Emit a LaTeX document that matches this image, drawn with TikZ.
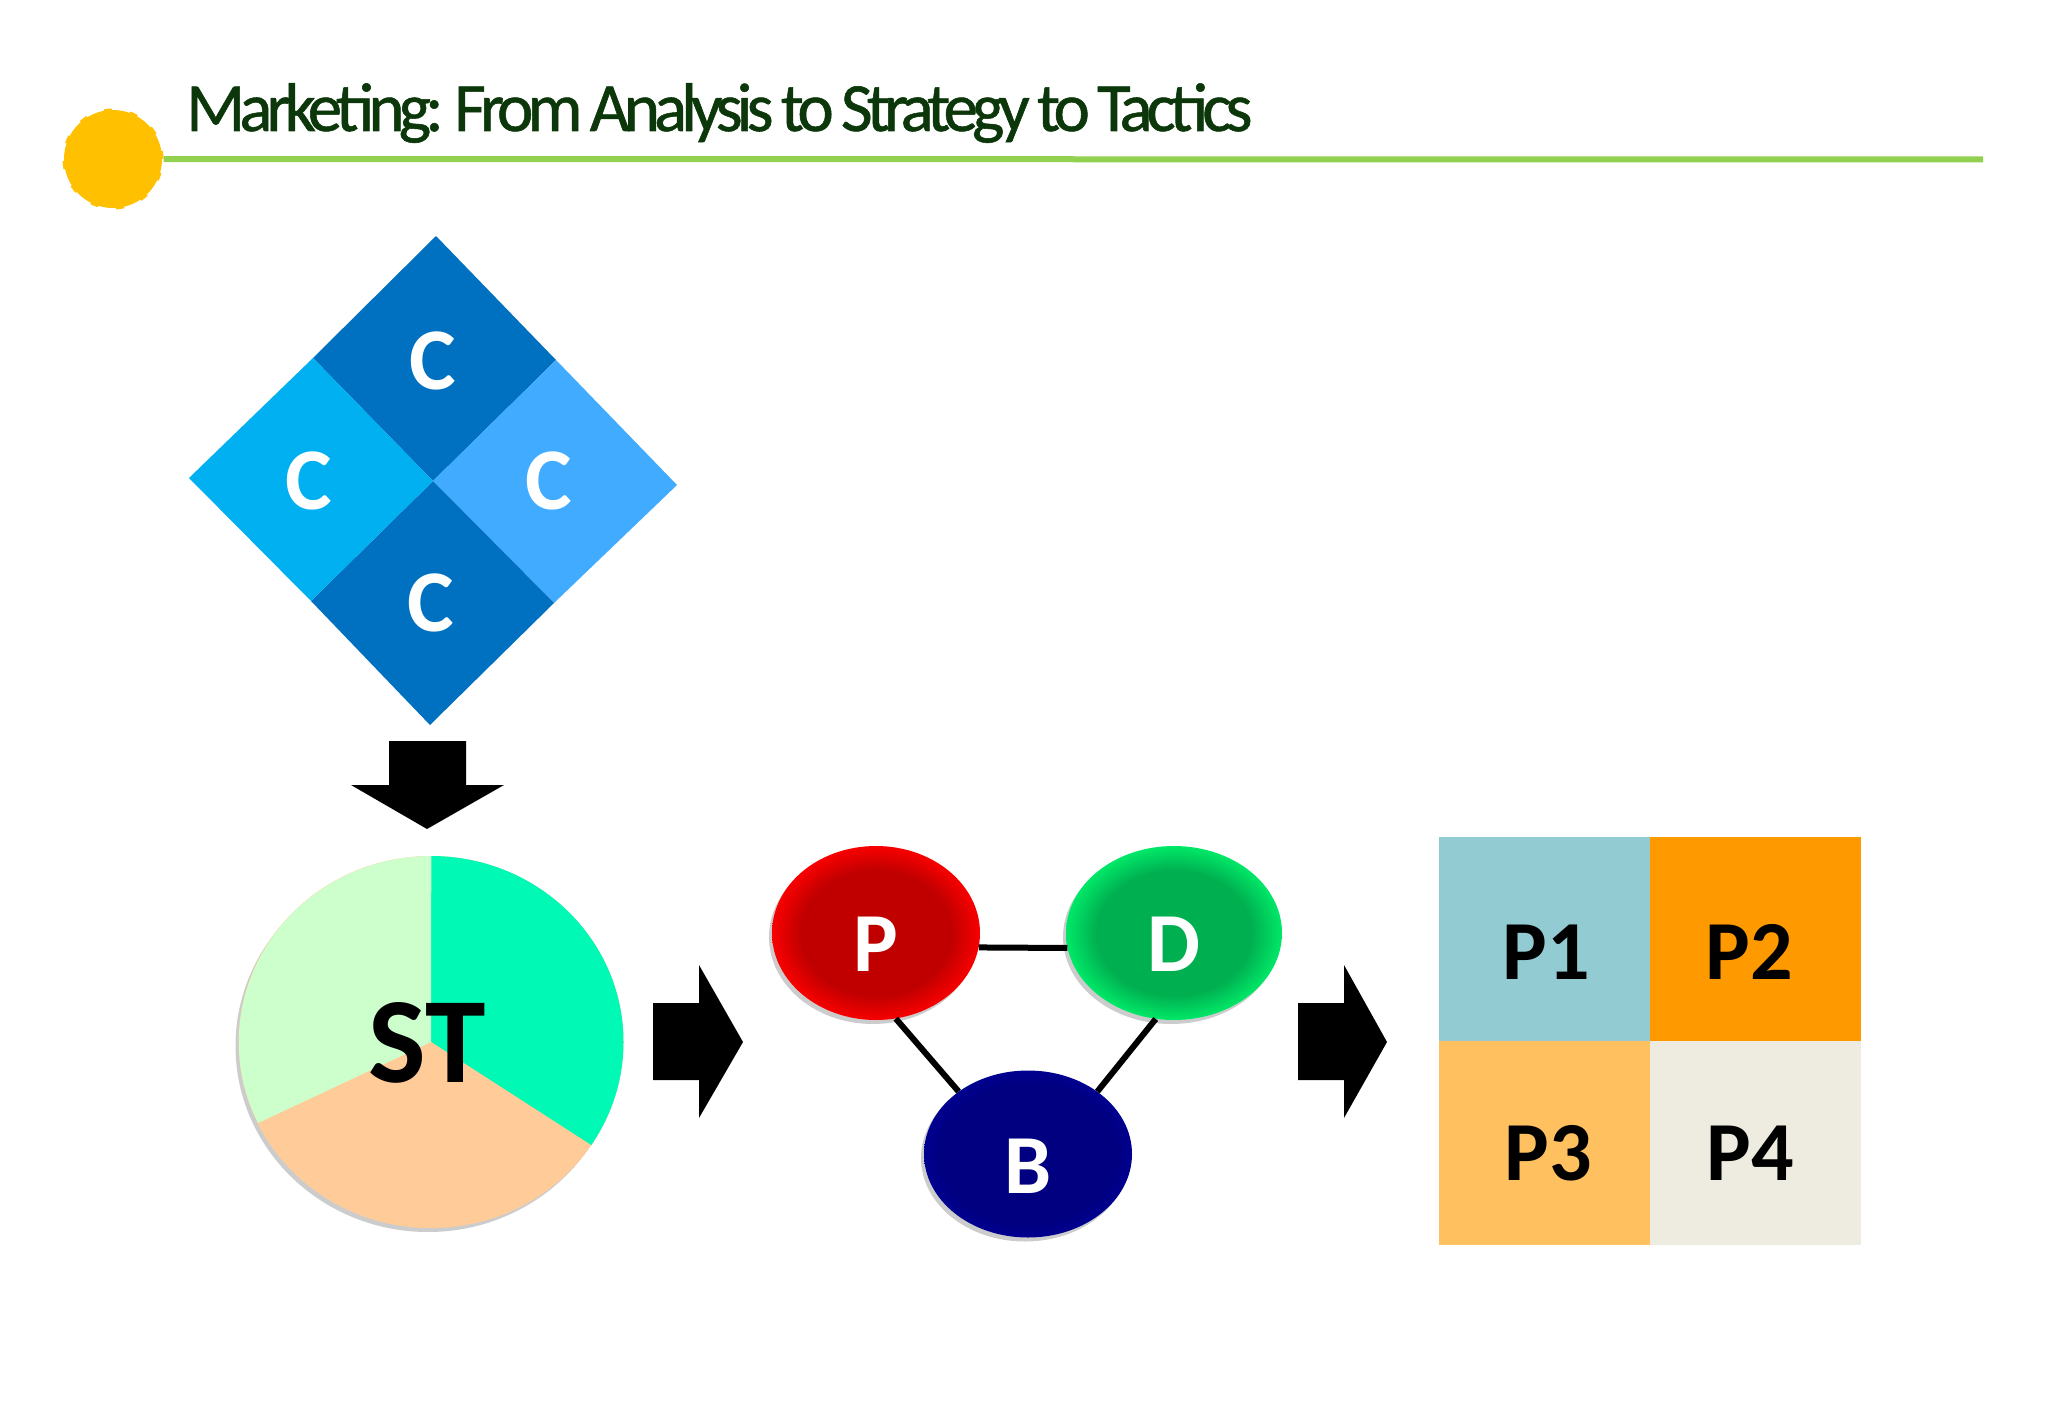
\documentclass[tikz,border=0pt]{standalone}
\usepackage{fontspec}
\setmainfont{Carlito}
\newfontfamily\titlefont[LetterSpace=-8.6,WordSpace=0.75,FakeBold=0.8]{Carlito}
\usetikzlibrary{shapes.geometric,shadows}
\definecolor{titlegreen}{HTML}{0C370A}
\definecolor{rulegreen}{HTML}{92D050}
\definecolor{sunyellow}{HTML}{FFC000}
\definecolor{cdark}{HTML}{0070C0}
\definecolor{ccyan}{HTML}{00B0F0}
\definecolor{clight}{HTML}{41ABFF}
\definecolor{piemint}{HTML}{00F9B4}
\definecolor{piepale}{HTML}{CCFFCC}
\definecolor{piepeach}{HTML}{FFCC99}
\definecolor{pa}{HTML}{93CBD3}
\definecolor{pb}{HTML}{FF9900}
\definecolor{pc}{HTML}{FFC060}
\definecolor{pd}{HTML}{EEECE1}
\definecolor{redin}{HTML}{C00000}\definecolor{redout}{HTML}{F80000}
\definecolor{grin}{HTML}{00B050}\definecolor{grout}{HTML}{00E868}
\definecolor{blin}{HTML}{000080}\definecolor{blout}{HTML}{000090}
\pgfdeclareradialshading{ovalred}{\pgfpoint{0bp}{0bp}}{color(0bp)=(redin); color(18bp)=(redin); color(25bp)=(redout); color(50bp)=(redout)}
\pgfdeclareradialshading{ovalgreen}{\pgfpoint{0bp}{0bp}}{color(0bp)=(grin); color(18bp)=(grin); color(25bp)=(grout); color(50bp)=(grout)}
\pgfdeclareradialshading{ovalblue}{\pgfpoint{0bp}{0bp}}{color(0bp)=(blin); color(21bp)=(blin); color(25bp)=(blout); color(50bp)=(blout)}
\tikzset{
  x=1pt,y=1pt,
  txt/.style={inner sep=0pt,font=\fontsize{#1}{#1}\selectfont\bfseries},
  lettercc/.style={txt=88,text=white},
  ovalwhite/.style={txt=84,text=white},
  plabel/.style={txt=84,text=black},
  oval/.style={ellipse,inner sep=0pt,drop shadow={shadow xshift=-3pt,shadow yshift=-4pt,opacity=.4}},
  link/.style={line width=6pt,black},
  bigarrow/.style={fill=black},
}
\begin{document}
\begin{tikzpicture}
\useasboundingbox (0,0) rectangle (2048,-1418);
\fill[white] (0,0) rectangle (2048,-1418);
% title and rule
\coordinate (ruleend) at (1983,-159.5);
\node[circle,minimum size=98pt,inner sep=0pt,fill=sunyellow,draw=sunyellow,line width=3pt,dash pattern=on 8pt off 18pt] (sun) at (113,-159) {};
\draw[rulegreen,line width=6pt] (sun.east) -- (ruleend);
\node[anchor=base west,inner sep=0pt,text=titlegreen,font=\fontsize{69}{69}\selectfont\titlefont] (title) at (186,-131) {Marketing: From Analysis to Strategy to Tactics};
% diamond
\fill[cdark]  (436,-236) -- (556,-360) -- (433,-481) -- (313,-358) -- cycle;
\fill[clight] (556,-360) -- (677,-485) -- (554,-603) -- (433,-481) -- cycle;
\fill[cdark]  (433,-481) -- (554,-603) -- (430,-725) -- (311,-601) -- cycle;
\fill[ccyan]  (313,-358) -- (433,-481) -- (311,-601) -- (189,-478) -- cycle;
\node[lettercc] (c1) at (433,-361) {C};
\node[lettercc] (c2) at (309,-481) {C};
\node[lettercc] (c3) at (549,-481) {C};
\node[lettercc] (c4) at (431,-603) {C};
% down arrow
\fill[bigarrow] (389,-741) -- (466,-741) -- (466,-785) -- (504,-785) -- (427,-829) -- (351,-785) -- (389,-785) -- cycle;
% pie
\node[oval,minimum width=385pt,minimum height=372pt,fill=piepeach] (pie) at (431,-1042) {};
\fill[piemint] (431,-1042) -- (431,-856) arc[start angle=90,end angle=-33.7,x radius=192.5,y radius=186] -- cycle;
\fill[piepeach] (431,-1042) -- (591,-1145) arc[start angle=-33.7,end angle=-154.2,x radius=192.5,y radius=186] -- cycle;
\fill[piepale] (431,-1042) -- (258,-1123) arc[start angle=205.8,end angle=90,x radius=192.5,y radius=186] -- cycle;
\node[txt=122,text=black] (st) at (427,-1043) {ST};
% right arrows
\fill[bigarrow] (653,-1003) -- (699,-1003) -- (699,-965) -- (743,-1042) -- (699,-1118) -- (699,-1080) -- (653,-1080) -- cycle;
\fill[bigarrow] (1298,-1003) -- (1344,-1003) -- (1344,-965) -- (1387,-1042) -- (1344,-1118) -- (1344,-1080) -- (1298,-1080) -- cycle;
% ovals
\node[oval,minimum width=208pt,minimum height=174pt,shading=ovalred] (P) at (876,-933) {};
\node[oval,minimum width=216pt,minimum height=174pt,shading=ovalgreen] (D) at (1174,-933) {};
\node[oval,minimum width=208pt,minimum height=167pt,shading=ovalblue] (B) at (1028,-1154) {};
\draw[link] (P.-8) -- (D.188);
\draw[link] (P.-77) -- (B.138);
\draw[link] (D.-102) -- (B.42);
\node[ovalwhite] (pt) at (876,-944) {P};
\node[ovalwhite] (dt) at (1174,-944) {D};
\node[ovalwhite] (bt) at (1028,-1166) {B};
% grid
\fill[pa] (1439,-837) rectangle (1650,-1041);
\fill[pb] (1650,-837) rectangle (1861,-1041);
\fill[pc] (1439,-1041) rectangle (1650,-1245);
\fill[pd] (1650,-1041) rectangle (1861,-1245);
\node[plabel] (p1) at (1546,-952) {P1};
\node[plabel] (p2) at (1749,-952) {P2};
\node[plabel] (p3) at (1548,-1153) {P3};
\node[plabel] (p4) at (1750,-1153) {P4};
\end{tikzpicture}
\end{document}
